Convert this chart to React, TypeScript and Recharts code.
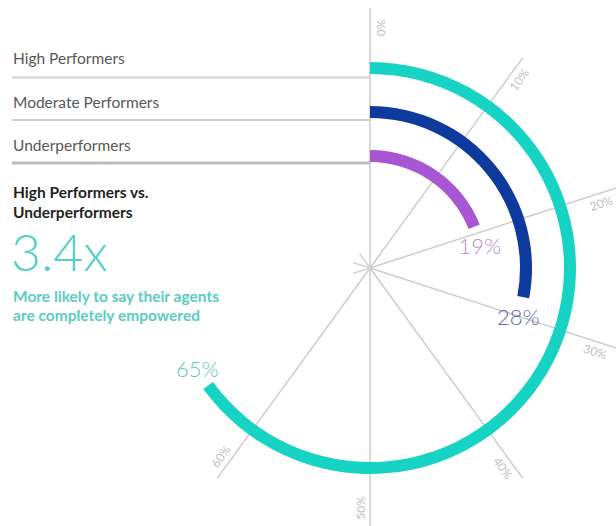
import React from 'react';
import { RadialBarChart, RadialBar, PolarAngleAxis, PolarGrid, LabelList } from 'recharts';

// data, inner ring first
const segments = ['Underperformers', 'Moderate Performers', 'High Performers'];
const values = [19, 28, 65];
const barColors = ['#a956d4', '#0d3a9c', '#17d3c4'];
const labelColors = ['#b48ad6', '#5a6ea5', '#5fc7bd'];

const angleTicks = [0, 10, 20, 30, 40, 50, 60];
const stubTicks = [70, 80, 90];

const legendRows = ['High Performers', 'Moderate Performers', 'Underperformers'];
const headline = ['High Performers vs.', 'Underperformers'];
const ratio = '3.4x';
const caption = ['More likely to say their agents', 'are completely empowered'];

const W = 616;
const H = 526;
const CX = 370;
const CY = 268;
const FONT = 'Lato, "Open Sans", sans-serif';

const data = segments.map((name, i) => ({ name, value: values[i], fill: barColors[i] }));

const renderValueLabel = (props: any) => {
  const { viewBox, value, index } = props;
  if (!viewBox) return null;
  const { cx, cy, innerRadius, outerRadius, endAngle } = viewBox;
  const r = (innerRadius + outerRadius) / 2;
  const a = endAngle - (20 / r) * (180 / Math.PI);
  const rad = (-a * Math.PI) / 180;
  const x = cx + Math.cos(rad) * r;
  const y = cy + Math.sin(rad) * r;
  return (
    <text x={x} y={y} textAnchor="middle" dominantBaseline="central" fill={labelColors[index]} fontSize={22} fontFamily={FONT} fontWeight={300}>
      {`${value}%`}
    </text>
  );
};

const renderAngleTick = (props: any) => {
  const { payload } = props;
  const cx = typeof props.cx === 'number' ? props.cx : CX;
  const cy = typeof props.cy === 'number' ? props.cy : CY;
  const a = payload.coordinate;
  const rad = (-a * Math.PI) / 180;
  const ux = Math.cos(rad);
  const uy = Math.sin(rad);
  const r = 240;
  const off = 10;
  const x = cx + ux * r - uy * off;
  const y = cy + uy * r + ux * off;
  let rot = -a;
  while (rot > 180) rot -= 360;
  while (rot <= -180) rot += 360;
  if (rot >= 90) rot -= 180;
  if (rot < -90) rot += 180;
  return (
    <text x={x} y={y} transform={`rotate(${rot} ${x} ${y})`} textAnchor="middle" dominantBaseline="central" fill="#bfbfbf" fontSize={12} fontFamily={FONT}>
      {`${payload.value}%`}
    </text>
  );
};

const layer: React.CSSProperties = { position: 'absolute', left: 0, top: 0 };

export default function App() {
  return (
    <div style={{ position: 'absolute', left: 0, top: 0, width: W, height: H, background: '#fff', overflow: 'hidden' }}>
      {/* radial guide lines (transparent series keeps the polar axes alive) */}
      <div style={layer}>
        <RadialBarChart width={W} height={H} cx={CX} cy={CY} innerRadius={0} outerRadius={260} startAngle={90} endAngle={-270} data={data} margin={{ top: 0, right: 0, bottom: 0, left: 0 }}>
          <PolarGrid gridType="circle" polarRadius={[]} stroke="#cdcdcd" strokeWidth={1.5} />
          <PolarAngleAxis type="number" domain={[0, 100]} ticks={angleTicks} tick={renderAngleTick} axisLine={false} tickLine={false} />
          <RadialBar dataKey="value" fillOpacity={0} isAnimationActive={false} />
        </RadialBarChart>
      </div>
      {/* short stubs at the centre */}
      <div style={layer}>
        <RadialBarChart width={W} height={H} cx={CX} cy={CY} innerRadius={0} outerRadius={18} startAngle={90} endAngle={-270} data={data} margin={{ top: 0, right: 0, bottom: 0, left: 0 }}>
          <PolarGrid gridType="circle" polarRadius={[]} stroke="#d4d4d4" strokeWidth={1.5} />
          <PolarAngleAxis type="number" domain={[0, 100]} ticks={stubTicks} tick={false} axisLine={false} tickLine={false} />
          <RadialBar dataKey="value" fillOpacity={0} isAnimationActive={false} />
        </RadialBarChart>
      </div>
      {/* legend rows and text block */}
      <svg width={W} height={H} style={layer}>
        {legendRows.map((t, i) => (
          <text key={t} x={13} y={64 + i * 43.5} fontSize={15.5} fill="#575757" fontFamily={FONT}>{t}</text>
        ))}
        <line x1={12} x2={CX} y1={77.5} y2={77.5} stroke="#cfcfcf" strokeWidth={2} />
        <line x1={12} x2={CX} y1={120} y2={120} stroke="#cfcfcf" strokeWidth={2} />
        <line x1={12} x2={CX} y1={163} y2={163} stroke="#bcbcbc" strokeWidth={3} />
        {headline.map((t, i) => (
          <text key={t} x={13} y={198 + i * 20} fontSize={15.5} fontWeight={700} fill="#1f1f1f" fontFamily={FONT}>{t}</text>
        ))}
        <text x={11} y={271} fontSize={52} fontWeight={300} fill="#55d0c5" fontFamily={FONT}>{ratio}</text>
        {caption.map((t, i) => (
          <text key={t} x={13} y={302 + i * 19} fontSize={15.5} fontWeight={700} fill="#5ccbc0" fontFamily={FONT}>{t}</text>
        ))}
      </svg>
      {/* bars */}
      <div style={layer}>
        <RadialBarChart width={W} height={H} cx={CX} cy={CY} innerRadius={90} outerRadius={222} startAngle={90} endAngle={-270} data={data} barSize={12} margin={{ top: 0, right: 0, bottom: 0, left: 0 }}>
          <PolarAngleAxis type="number" domain={[0, 100]} tick={false} axisLine={false} tickLine={false} />
          <RadialBar dataKey="value" isAnimationActive={false}>
            <LabelList dataKey="value" content={renderValueLabel} />
          </RadialBar>
        </RadialBarChart>
      </div>
    </div>
  );
}
